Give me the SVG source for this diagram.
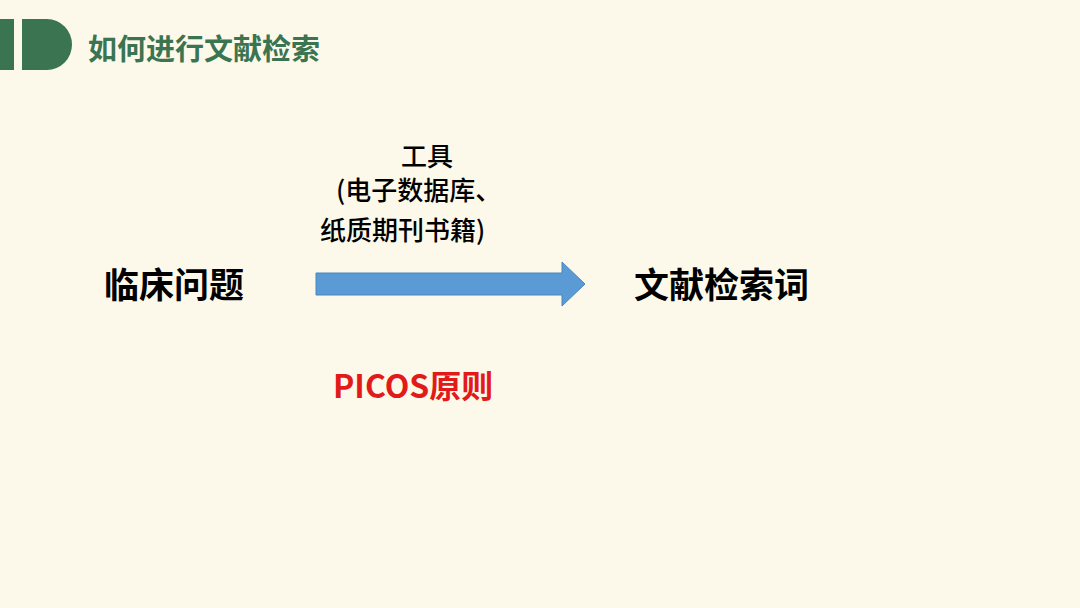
<svg xmlns="http://www.w3.org/2000/svg" width="1080" height="608" viewBox="0 0 1080 608">
<style>
text{font-family:"Noto Sans CJK SC","Liberation Sans",sans-serif;font-weight:bold}
.big{font-size:35px;fill:#000}
.mid{font-size:26px;fill:#000;font-weight:500}
</style>
<rect width="1080" height="608" fill="#fdf9ea"/>
<g id="header">
<rect x="0" y="19" width="14" height="51" fill="#3b7450"/>
<path d="M22 19 H47 A25 25.5 0 0 1 47 70 H22 Z" fill="#3b7450"/>
<text x="88" y="60" font-size="29" fill="#3b7450">如何进行文献检索</text>
</g>
<g id="n1"><text class="big" x="104" y="298">临床问题</text></g>
<g id="n2"><text class="big" x="634" y="298">文献检索词</text></g>
<g id="tool"><text class="mid" x="427" y="166" text-anchor="middle">工具</text>
<text class="mid" x="336" y="200">(电子数据库、</text>
<text class="mid" x="320" y="240">纸质期刊书籍)</text></g>
<g id="picos"><text x="333" y="398" font-size="32" fill="#e31a1a">PICOS原则</text></g>
<g id="connectors">
<path d="M316 273 H562 V262 L585 284 L562 306 V295 H316 Z" fill="#5b9bd5" stroke="#4a86c0" stroke-width="1"/>
</g>
</svg>
